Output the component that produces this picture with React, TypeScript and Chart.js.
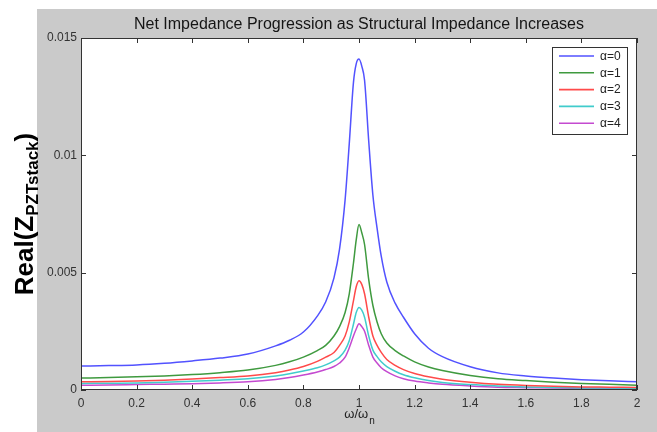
import React, { useEffect, useRef } from 'react';
import { Chart, registerables } from 'chart.js';

Chart.register(...registerables);

// ---- data ----
const xValues = [
  0, 0.1, 0.2, 0.3, 0.4, 0.5, 0.6, 0.7, 0.75, 0.8, 0.85, 0.88, 0.91, 0.93, 0.95, 0.965, 0.98, 0.99, 1.0,
  1.01, 1.02, 1.035, 1.05, 1.065, 1.08, 1.1, 1.13, 1.16, 1.2, 1.25, 1.3, 1.4, 1.5, 1.6, 1.7, 1.8, 1.9, 2.0,
];

const alpha0 = [
  0.00102, 0.00104, 0.00107, 0.00114, 0.00124, 0.00136, 0.00153, 0.00188, 0.00212, 0.00247, 0.00315, 0.00375,
  0.00478, 0.006, 0.0081, 0.0105, 0.0131, 0.0139, 0.0141, 0.0138, 0.0132, 0.0106, 0.0083, 0.0069, 0.0057,
  0.0046, 0.0037, 0.0031, 0.0024, 0.00178, 0.00142, 0.00099, 0.00073, 0.0006, 0.00051, 0.00044, 0.00039, 0.00035,
];

const alpha1 = [
  0.00051, 0.00053, 0.00056, 0.0006, 0.00066, 0.00074, 0.00085, 0.00105, 0.0012, 0.0014, 0.00168, 0.0019,
  0.0023, 0.0027, 0.0033, 0.0041, 0.0054, 0.0064, 0.00705, 0.0067, 0.0062, 0.0047, 0.0036, 0.0029, 0.0024,
  0.002, 0.00168, 0.00145, 0.0012, 0.00098, 0.00083, 0.00062, 0.00048, 0.0004, 0.00033, 0.00028, 0.00024, 0.0002,
];

const alpha2 = [
  0.00035, 0.00036, 0.00038, 0.00042, 0.00047, 0.00053, 0.0006, 0.00074, 0.00085, 0.001, 0.00122, 0.0014,
  0.0016, 0.0019, 0.0023, 0.0029, 0.0038, 0.0044, 0.00466, 0.0045, 0.0041, 0.0031, 0.0023, 0.0019, 0.0016,
  0.0013, 0.00105, 0.00087, 0.0007, 0.00056, 0.00046, 0.00033, 0.00024, 0.00019, 0.00016, 0.00013, 0.00012, 0.00011,
];

const alpha3 = [
  0.00028, 0.00029, 0.0003, 0.00033, 0.00037, 0.00042, 0.00048, 0.0006, 0.00069, 0.00081, 0.00095, 0.00107,
  0.00124, 0.0014, 0.0017, 0.0021, 0.0028, 0.0033, 0.00352, 0.0034, 0.0031, 0.0023, 0.0017, 0.00142, 0.0012,
  0.001, 0.0008, 0.00065, 0.00052, 0.0004, 0.00032, 0.00023, 0.00017, 0.00013, 0.00011, 0.00009, 0.00008, 0.00007,
];

const alpha4 = [
  0.0002, 0.00021, 0.00023, 0.00025, 0.00027, 0.0003, 0.00035, 0.00045, 0.00053, 0.00064, 0.00077, 0.00087,
  0.001, 0.00115, 0.0014, 0.0018, 0.0023, 0.0026, 0.00282, 0.0027, 0.0025, 0.0019, 0.0014, 0.00115, 0.00095,
  0.00078, 0.0006, 0.00048, 0.00038, 0.0003, 0.00024, 0.00017, 0.00012, 0.0001, 0.00008, 0.00007, 0.00006, 0.00006,
];

const seriesLabels = ['α=0', 'α=1', 'α=2', 'α=3', 'α=4'];
const seriesValues = [alpha0, alpha1, alpha2, alpha3, alpha4];

const titleText = 'Net Impedance Progression as Structural Impedance Increases';
const xTickValues = [0, 0.2, 0.4, 0.6, 0.8, 1, 1.2, 1.4, 1.6, 1.8, 2];
const yTickValues = [0, 0.005, 0.01, 0.015];

// ---- styles ----
const seriesColors = ['#5252ff', '#3f9a3f', '#ff4a4a', '#40cccc', '#c44ad0'];
const FONT = "'Liberation Sans', Arial, Helvetica, sans-serif";
const GRAY = '#cacaca';
const AXIS = '#333333';

const decorPlugin = {
  id: 'matlabDecor',
  beforeDraw(chart: any) {
    const { ctx, chartArea } = chart;
    ctx.save();
    ctx.fillStyle = '#ffffff';
    ctx.fillRect(0, 0, chart.width, chart.height);
    ctx.fillStyle = GRAY;
    ctx.fillRect(37, 9, chart.width - 37, chart.height - 9);
    ctx.fillStyle = '#ffffff';
    ctx.fillRect(chartArea.left, chartArea.top, chartArea.right - chartArea.left, chartArea.bottom - chartArea.top);
    ctx.restore();
  },
  afterDraw(chart: any) {
    const { ctx, chartArea } = chart;
    const xs = chart.scales.x;
    const ys = chart.scales.y;
    const L = chartArea.left, R = chartArea.right, T = chartArea.top, B = chartArea.bottom;
    ctx.save();
    // box
    ctx.strokeStyle = AXIS;
    ctx.lineWidth = 1;
    ctx.strokeRect(Math.round(L) + 0.5, Math.round(T) + 0.5, Math.round(R - L) - 1, Math.round(B - T) - 1);
    // inward ticks
    ctx.beginPath();
    xTickValues.forEach((v) => {
      const px = Math.round(xs.getPixelForValue(v)) + 0.5;
      ctx.moveTo(px, B);
      ctx.lineTo(px, B - 5);
      ctx.moveTo(px, T);
      ctx.lineTo(px, T + 5);
    });
    yTickValues.forEach((v) => {
      const py = Math.round(ys.getPixelForValue(v)) + 0.5;
      ctx.moveTo(L, py);
      ctx.lineTo(L + 5, py);
      ctx.moveTo(R, py);
      ctx.lineTo(R - 5, py);
    });
    ctx.stroke();

    // title
    ctx.fillStyle = '#151515';
    ctx.font = `16px ${FONT}`;
    ctx.textAlign = 'center';
    ctx.textBaseline = 'alphabetic';
    ctx.fillText(titleText, (L + R) / 2, 29);

    // x label  ω/ω_n
    ctx.textAlign = 'left';
    ctx.font = `13px ${FONT}`;
    const main = 'ω/ω';
    const wMain = ctx.measureText(main).width;
    ctx.font = `10px ${FONT}`;
    const wSub = ctx.measureText('n').width;
    const startX = (L + R) / 2 - (wMain + wSub) / 2;
    ctx.fillStyle = '#222222';
    ctx.font = `13px ${FONT}`;
    ctx.fillText(main, startX, 418);
    ctx.font = `10px ${FONT}`;
    ctx.fillText('n', startX + wMain + 1, 424);

    // y label Real(Z_PZTstack)
    ctx.save();
    ctx.translate(33, (T + B) / 2);
    ctx.rotate(-Math.PI / 2);
    ctx.fillStyle = '#000000';
    const p1 = 'Real(Z';
    const p2 = 'PZTstack';
    const p3 = ')';
    ctx.font = `bold 26px ${FONT}`;
    const w1 = ctx.measureText(p1).width;
    const w3 = ctx.measureText(p3).width;
    ctx.font = `bold 17px ${FONT}`;
    const w2 = ctx.measureText(p2).width;
    const total = w1 + w2 + w3;
    let cx = -total / 2;
    ctx.font = `bold 26px ${FONT}`;
    ctx.fillText(p1, cx, 0);
    cx += w1;
    ctx.font = `bold 17px ${FONT}`;
    ctx.fillText(p2, cx, 5);
    cx += w2;
    ctx.font = `bold 26px ${FONT}`;
    ctx.fillText(p3, cx, 0);
    ctx.restore();

    // legend
    const lx = 552, ly = 47, lw = 75, lh = 87;
    ctx.fillStyle = '#ffffff';
    ctx.fillRect(lx, ly, lw, lh);
    ctx.strokeStyle = AXIS;
    ctx.lineWidth = 1;
    ctx.strokeRect(lx + 0.5, ly + 0.5, lw, lh);
    chart.data.datasets.forEach((ds: any, i: number) => {
      const yy = 56 + i * 16.8;
      ctx.strokeStyle = ds.borderColor;
      ctx.lineWidth = 1.6;
      ctx.beginPath();
      ctx.moveTo(559, yy);
      ctx.lineTo(594, yy);
      ctx.stroke();
      ctx.fillStyle = '#222222';
      ctx.font = `12px ${FONT}`;
      ctx.textAlign = 'left';
      ctx.textBaseline = 'middle';
      ctx.fillText(ds.label, 600, yy + 0.5);
    });
    ctx.restore();
  },
};

const fmt = (v: number) => {
  const r = Math.round(v * 100000) / 100000;
  return String(r);
};

export default function App() {
  const ref = useRef<HTMLCanvasElement>(null);
  useEffect(() => {
    const canvas = ref.current;
    if (!canvas) return;
    Chart.defaults.font.family = FONT;
    const datasets = seriesValues.map((vals, i) => ({
      label: seriesLabels[i],
      data: xValues.map((x, j) => ({ x, y: vals[j] })),
      borderColor: seriesColors[i],
      backgroundColor: seriesColors[i],
      borderWidth: 1.5,
      pointRadius: 0,
      fill: false,
      cubicInterpolationMode: 'monotone' as const,
    }));
    const chart = new Chart(canvas, {
      type: 'line',
      data: { datasets },
      plugins: [decorPlugin],
      options: {
        responsive: false,
        devicePixelRatio: 1,
        animation: false,
        events: [],
        layout: { padding: { left: 0, top: 38, right: 20, bottom: 0 } },
        plugins: {
          legend: { display: false },
          title: { display: false },
          tooltip: { enabled: false },
        },
        scales: {
          x: {
            type: 'linear',
            min: 0,
            max: 2,
            afterFit: (s: any) => {
              s.height = 42;
            },
            afterBuildTicks: (s: any) => {
              s.ticks = xTickValues.map((v) => ({ value: v }));
            },
            grid: { display: false, drawTicks: false },
            border: { display: false },
            ticks: {
              autoSkip: false,
              maxRotation: 0,
              padding: 6,
              color: '#333333',
              font: { size: 12, family: FONT },
              callback: (v: any) => fmt(Number(v)),
            },
          },
          y: {
            type: 'linear',
            min: 0,
            max: 0.015,
            afterFit: (s: any) => {
              s.width = 81;
            },
            afterBuildTicks: (s: any) => {
              s.ticks = yTickValues.map((v) => ({ value: v }));
            },
            grid: { display: false, drawTicks: false },
            border: { display: false },
            ticks: {
              autoSkip: false,
              padding: 4,
              color: '#333333',
              font: { size: 12, family: FONT },
              callback: (v: any) => fmt(Number(v)),
            },
          },
        },
      } as any,
    });
    return () => chart.destroy();
  }, []);
  return (
    <div style={{ position: 'absolute', left: 0, top: 0, width: 657, height: 432 }}>
      <canvas ref={ref} width={657} height={432} style={{ display: 'block', width: 657, height: 432 }} />
    </div>
  );
}
